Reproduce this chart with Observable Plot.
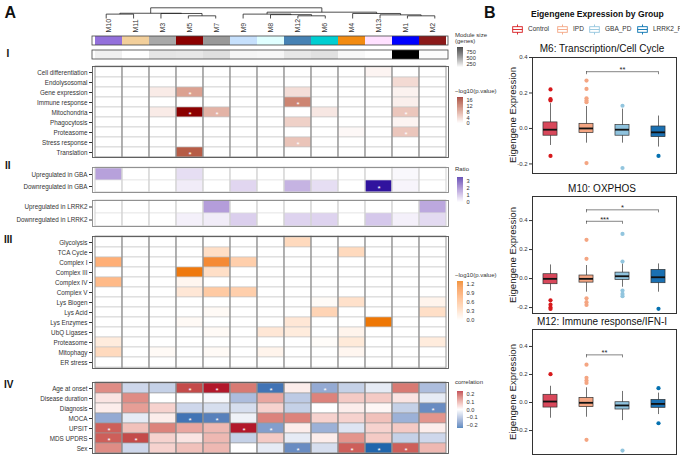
<!DOCTYPE html>
<html>
<head>
<meta charset="utf-8">
<script src="https://cdn.jsdelivr.net/npm/d3@7"></script>
<script src="https://cdn.jsdelivr.net/npm/@observablehq/plot@0.6"></script>
<style>
  body { margin: 0; background: #fff; }
  #fig { position: relative; width: 680px; height: 458px; overflow: hidden; background: #fff;
         font-family: "Liberation Sans", Arial, sans-serif; color: #222; }
  #fig svg { position: absolute; overflow: visible; }
  .t { position: absolute; white-space: nowrap; line-height: 1; }
</style>
</head>
<body>
<div id="fig"></div>
<script>
// ---------- Panel A: module annotations ----------
const modules = ["M10","M11","M3","M5","M7","M9","M8","M12","M6","M4","M13","M1","M2"];
const moduleColors = ["#9370db","#f2cf9b","#a9a9a9","#8b0000","#999999","#c6e0fc","#e0ffff","#4682b4","#00ced1","#f28a10","#ffe1ff","#0000ff","#8b1a1a"];
const moduleSizes = [140, 96, 172, 165, 190, 125, 118, 165, 182, 115, 100, 930, 106];

// hierarchical clustering of module eigengenes: [left, right, merge height]; nK = K-th merge
const merges = [
  ["M10","M11",0.41],
  ["M5","M7",0.25],
  ["M3","n2",0.47],
  ["n1","n3",0.49],
  ["M12","M6",0.25],
  ["M8","n5",0.36],
  ["M9","n6",0.41],
  ["M1","M2",0.25],
  ["M13","n8",0.34],
  ["M4","n9",0.47],
  ["n7","n10",0.59],
  ["n4","n11",1.0]
];

// ---------- Section I: pathway enrichment, -log10(p) ----------
const rowsI = ["Cell differentiation","Endolysosomal","Gene expression","Immune response","Mitochondria","Phagocytosis","Proteasome","Stress response","Translation"];
const valuesI = [
  [0,0,0,0,0,0,0,0,0,0,0.8,0,0],
  [0,0,0,0,0,0,0,0,0,0,0,2.8,0],
  [0,0,1.5,7.2,0,0,0,2.5,0,0,0,1.0,0],
  [0,0,0,0,0,0,0,9.4,0,0,0,1.2,0],
  [0,0,1.5,18,5.8,0,0,0,1.8,0,0,4.3,0],
  [0,0,0,0,0,0,0,3.5,0,0,0,0.8,0],
  [0,0,0,0,0,0,0,0,0,0.5,0,4.3,0],
  [0,0,0,0,0,0,0,4.5,0,0,0,0,0],
  [0,0,0,12.6,0,0,0,0,0,0,0,0,0]
];
const starsI = [[],[],["M5"],["M12"],["M5","M7","M1"],[],["M1"],["M12"],["M5"]];

// ---------- Section II: overlap with mutation-carrier DEGs, ratio ----------
const rowsGBA = ["Upregulated in GBA","Downregulated in GBA"];
const valuesGBA = [
  [1.3,0,0,0.45,0,0,0,0,0,0,0,0.1,0],
  [0,0,0,0.25,0,0.55,0,1.05,0.45,0,3.4,0.15,0]
];
const starsGBA = [[],["M13"]];
const rowsLRRK2 = ["Upregulated in LRRK2","Downregulated in LRRK2"];
const valuesLRRK2 = [
  [0,0,0,0,1.35,0,0,0,0,0,0,0,1.2],
  [0,0,0,0.2,0.25,0.65,0,0.6,0.6,0,0.75,0.2,0.5]
];

// ---------- Section III: PD-relevant gene sets, -log10(p) ----------
const rowsIII = ["Glycolysis","TCA Cycle","Complex I","Complex III","Complex IV","Complex V","Lys Biogen","Lys Acid","Lys Enzymes","UbQ Ligases","Proteasome","Mitophagy","ER stress"];
const valuesIII = [
  [0,0,0,0,0,0,0,0.35,0,0,0,0,0],
  [0,0,0,0,0.3,0,0,0,0,0.35,0,0,0],
  [0.75,0,0,0,1.1,0.45,0,0,0,0,0,0,0],
  [0,0,0,1.25,0.3,0,0,0,0,0,0,0,0],
  [0.65,0,0,0.08,0,0,0,0,0,0,0,0,0],
  [0,0,0,0.22,0.5,0.45,0,0,0,0,0,0,0],
  [0,0,0,0,0,0,0,0,0.04,0.28,0,0,0.1],
  [0,0,0,0,0.05,0,0,0,0.4,0,0,0,0.3],
  [0,0,0,0.05,0,0,0,0.22,0,0,1.27,0,0],
  [0,0,0,0,0.05,0,0.22,0.18,0,0.1,0,0,0],
  [0.18,0,0,0,0,0,0,0,0.03,0.2,0,0,0.18],
  [0.35,0,0.05,0,0.05,0,0.1,0,0,0.08,0,0,0],
  [0,0,0,0,0,0,0,0,0,0,0,0,0]
];

// ---------- Section IV: clinical correlations ----------
const rowsIV = ["Age at onset","Disease duration","Diagnosis","MOCA","UPSIT","MDS UPDRS","Sex"];
const valuesIV = [
  [0.13,-0.06,-0.07,0.2,0.24,0.15,-0.22,0.02,-0.13,-0.07,-0.03,0.15,-0.1],
  [0.03,0.13,0,0,-0.01,-0.1,0.1,-0.08,0.14,0.06,0.06,0.03,-0.03],
  [0.02,0.11,0.05,-0.06,-0.05,-0.05,0.05,-0.07,0,0.02,0.01,-0.07,-0.18],
  [-0.13,-0.03,0.02,-0.22,-0.2,-0.02,0.14,0.14,0.05,0.05,0.07,-0.12,0.12],
  [0.18,0.07,0.14,0.1,0.08,0.24,-0.15,0.02,-0.12,-0.04,0.05,0.06,0.02],
  [0.18,0.2,0.05,0.03,0.08,-0.07,0.06,-0.03,0.02,0.12,0.06,-0.07,-0.06],
  [0.13,-0.06,0.05,0.07,0.08,0,-0.03,-0.18,-0.05,0.18,-0.245,0.18,0.08]
];
const starsIV = [["M5","M7","M8","M6"],[],["M2"],["M5","M7"],["M10","M9","M8"],["M10","M11"],["M12","M4","M13","M1"]];

// ---------- Panel B: eigengene expression by group ----------
const groups = ["Control","IPD","GBA_PD","LRRK2_PD"];
// per group: [lower whisker, Q1, median, Q3, upper whisker]
const m6Box = [[-0.096,-0.041,-0.007,0.034,0.14],[-0.083,-0.026,0.0,0.026,0.124],[-0.083,-0.041,-0.007,0.019,0.109],[-0.105,-0.049,-0.022,0.011,0.07]];
const m6Outliers = [[0.22,0.165,0.158,-0.155],[0.27,0.223,0.17,0.158,0.148,-0.195],[0.128,-0.223],[-0.155]];
const m6Signif = [["IPD","LRRK2_PD",0.32,"**"]];
const m10Box = [[-0.085,-0.039,-0.002,0.03,0.094],[-0.094,-0.028,-0.002,0.021,0.09],[-0.06,-0.009,0.016,0.041,0.101],[-0.094,-0.032,0.009,0.06,0.101]];
const m10Outliers = [[-0.15,-0.18,-0.2,-0.21],[0.267,0.136,-0.136,-0.163,-0.182],[0.308,0.117,-0.083,-0.106,-0.122],[-0.209]];
const m10Signif = [["IPD","GBA_PD",0.395,"***"],["IPD","LRRK2_PD",0.474,"*"]];
const m12Box = [[-0.112,-0.036,0.007,0.055,0.116],[-0.105,-0.033,-0.002,0.033,0.105],[-0.129,-0.05,-0.021,0.002,0.079],[-0.086,-0.038,-0.01,0.019,0.067]];
const m12Outliers = [[0.202],[0.27,0.176,0.157,0.14,-0.266],[-0.343],[0.102,-0.148]];
const m12Signif = [["IPD","GBA_PD",0.34,"**"]];

// ---------- styling ----------
const FONT = "'Liberation Sans', Arial, sans-serif";
const baseStyle = {fontFamily: FONT, fontSize: "6.3px", color: "#333", background: "transparent", overflow: "visible"};
const W = 460, ML = 92, MR = 12;
const groupStroke = ["#d7191c","#f4a582","#92c5de","#0571b0"];
const groupFill = ["#d9485b","#f4a582","#8fc3de","#1a70b2"];

const sizeColor = {type: "linear", domain: [96, 930], range: ["#ffffff", "#000000"], interpolate: "lab"};
const enrichColor = {type: "linear", domain: [0, 18], range: ["#ffffff", "#8b0000"], interpolate: "lab"};
const ratioColor = {type: "linear", domain: [0, 3.45], range: ["#ffffff", "#2b0f9c"], interpolate: "lab"};
const pdColor = {type: "linear", domain: [0, 1.28], range: ["#ffffff", "#ee7600"], interpolate: "lab"};
const corrColor = {type: "linear", domain: [-0.245, 0, 0.24], range: ["#2166ac", "#ffffff", "#b2182b"], interpolate: "lab"};

const fig = document.getElementById("fig");
function place(node, left, top) {
  node.style.left = left + "px";
  node.style.top = top + "px";
  fig.appendChild(node);
  return node;
}
function text(str, left, top, css = "") {
  const d = document.createElement("div");
  d.className = "t";
  d.textContent = str;
  d.style.cssText += `left:${left}px;top:${top}px;${css}`;
  fig.appendChild(d);
  return d;
}

// ---------- dendrogram ----------
const nodes = new Map(modules.map((m, i) => [m, {x: i + 0.5, h: 0}]));
const segments = [];
merges.forEach(([a, b, h], k) => {
  const A = nodes.get(a), B = nodes.get(b);
  segments.push({x1: A.x, y1: A.h, x2: A.x, y2: h});
  segments.push({x1: B.x, y1: B.h, x2: B.x, y2: h});
  segments.push({x1: A.x, y1: h, x2: B.x, y2: h});
  nodes.set("n" + (k + 1), {x: (A.x + B.x) / 2, h});
});
place(Plot.plot({
  width: W, height: 19, marginLeft: ML, marginRight: MR, marginTop: 7.3, marginBottom: 1,
  style: baseStyle,
  x: {domain: [0, modules.length], axis: null},
  y: {domain: [0, 1], axis: null},
  marks: [Plot.link(segments, {x1: "x1", y1: "y1", x2: "x2", y2: "y2", stroke: "#222", strokeWidth: 0.8})]
}), 0, 0);

// ---------- module colour and size bars, with module names ----------
place(Plot.plot({
  width: W, height: 43, marginLeft: ML, marginRight: MR, marginTop: 18, marginBottom: 0,
  style: baseStyle,
  x: {domain: modules, padding: 0},
  y: {domain: ["color", "size"], paddingInner: 0.333, paddingOuter: 0, axis: null},
  color: sizeColor,
  marks: [
    Plot.cell(modules, {x: d => d, y: () => "color", fill: (d, i) => moduleColors[i]}),
    Plot.cell(modules, {x: d => d, y: () => "size", fill: (d, i) => moduleSizes[i]}),
    Plot.cell(["color", "size"], {y: d => d, fill: "none", stroke: "#444", strokeWidth: 0.8}),
    Plot.axisX({anchor: "top", tickRotate: -90, tickSize: 0, tickPadding: 3, label: null, fontSize: 7})
  ]
}), 0, 17);

// ---------- heatmap sections ----------
function heatmap({rows, values, stars = [], top, height, color, cellStroke, columnStroke, frameStroke}) {
  const cells = rows.flatMap((r, i) => modules.map((m, j) => ({row: r, module: m, value: values[i][j]})));
  const starred = rows.flatMap((r, i) => (stars[i] || []).map(m => ({row: r, module: m})));
  place(Plot.plot({
    width: W, height, marginLeft: ML, marginRight: MR, marginTop: 0, marginBottom: 0,
    style: baseStyle,
    x: {domain: modules, padding: 0, axis: null},
    y: {domain: rows, padding: 0},
    color,
    marks: [
      Plot.cell(cells, {x: "module", y: "row", fill: "value", stroke: cellStroke, strokeWidth: 0.6}),
      Plot.cell(modules, {x: d => d, fill: "none", stroke: columnStroke, strokeWidth: 0.7}),
      Plot.text(starred, {x: "module", y: "row", text: () => "*", fill: "white", fontSize: 8, dy: 2}),
      Plot.frame({stroke: frameStroke, strokeWidth: 0.9}),
      Plot.axisY({tickSize: 3, tickPadding: 2, label: null, fontSize: 6.3, stroke: "#333"})
    ]
  }), 0, top);
}
heatmap({rows: rowsI, values: valuesI, stars: starsI, top: 66, height: 91, color: enrichColor,
         cellStroke: "#c4c4c4", columnStroke: "#8a8a8a", frameStroke: "#555"});
heatmap({rows: rowsGBA, values: valuesGBA, stars: starsGBA, top: 167, height: 25, color: ratioColor,
         cellStroke: "#dedede", columnStroke: "#d2d2d2", frameStroke: "#888"});
heatmap({rows: rowsLRRK2, values: valuesLRRK2, top: 200, height: 26, color: ratioColor,
         cellStroke: "#dedede", columnStroke: "#d2d2d2", frameStroke: "#888"});
heatmap({rows: rowsIII, values: valuesIII, top: 236, height: 132, color: pdColor,
         cellStroke: "#c4c4c4", columnStroke: "#8a8a8a", frameStroke: "#555"});
heatmap({rows: rowsIV, values: valuesIV, stars: starsIV, top: 381.5, height: 71, color: corrColor,
         cellStroke: "#9a9a9a", columnStroke: "#8c8c8c", frameStroke: "#555"});

// ---------- colour-bar legends ----------
function ramp({title, titleTop, top, height, color, ticks, format}) {
  const [lo, hi] = [color.domain[0], color.domain[color.domain.length - 1]];
  const n = 60;
  const steps = d3.range(n).map(i => ({a: lo + (hi - lo) * i / n, b: lo + (hi - lo) * (i + 1) / n}));
  place(Plot.plot({
    width: 28, height, marginLeft: 0, marginRight: 22, marginTop: 0, marginBottom: 0,
    style: {...baseStyle, fontSize: "5.6px"},
    x: {domain: [0, 1], axis: null},
    y: {domain: [lo, hi], axis: null},
    color,
    marks: [
      Plot.rect(steps, {x1: 0, x2: 1, y1: "a", y2: "b", fill: d => (d.a + d.b) / 2}),
      Plot.axisY({anchor: "right", ticks, tickFormat: format, tickSize: 0, tickPadding: 3, label: null, fontSize: 5.6})
    ]
  }), 457, top);
  title.forEach((line, i) => text(line, 455, titleTop + i * 5.6, "font-size:6px;color:#333;"));
}
ramp({title: ["Module size", "(genes)"], titleTop: 32, top: 47, height: 20, color: sizeColor,
      ticks: [250, 500, 750], format: d3.format("d")});
ramp({title: ["−log10(p.value)"], titleTop: 87.5, top: 97, height: 26, color: enrichColor,
      ticks: [0, 4, 8, 12, 16], format: d3.format("d")});
ramp({title: ["Ratio"], titleTop: 166, top: 177, height: 25, color: ratioColor,
      ticks: [0, 1, 2, 3], format: d3.format("d")});
ramp({title: ["−log10(p.value)"], titleTop: 271.5, top: 281, height: 39, color: pdColor,
      ticks: [0, 0.3, 0.6, 0.9, 1.2], format: d3.format(".1f")});
ramp({title: ["correlation"], titleTop: 379, top: 391, height: 37, color: corrColor,
      ticks: [-0.2, -0.1, 0, 0.1, 0.2], format: d3.format(".1f")});

// ---------- panel and section labels ----------
text("A", 4.5, 4.6, "font-size:16px;font-weight:bold;color:#111;");
text("B", 484, 4.6, "font-size:16px;font-weight:bold;color:#111;");
text("I", 6.5, 48.7, "font-size:10px;font-weight:bold;color:#111;");
text("II", 5, 160.5, "font-size:10px;font-weight:bold;color:#111;");
text("III", 4, 234.5, "font-size:10px;font-weight:bold;color:#111;");
text("IV", 4, 380.4, "font-size:10px;font-weight:bold;color:#111;");

// ---------- Panel B ----------
text("Eigengene Expression by Group", 531, 10.2, "font-size:8.6px;font-weight:bold;color:#111;");
const legendX = [512, 557, 589, 637];
groups.forEach((g, i) => {
  const ns = "http://www.w3.org/2000/svg";
  const s = document.createElementNS(ns, "svg");
  s.setAttribute("width", 11); s.setAttribute("height", 11);
  s.innerHTML = `<line x1="5.5" y1="0.5" x2="5.5" y2="10.5" stroke="${groupStroke[i]}" stroke-width="0.9"/>
    <rect x="0.7" y="2.7" width="9.6" height="5.6" fill="white" stroke="${groupStroke[i]}" stroke-width="0.9"/>
    <line x1="0.7" y1="5.5" x2="10.3" y2="5.5" stroke="${groupStroke[i]}" stroke-width="0.9"/>`;
  place(s, legendX[i], 24);
  text(g, legendX[i] + 16, 25.5, "font-size:6.5px;color:#333;");
});

function boxPanel({title, titleTop, top, height, domain, box, outliers, signif}) {
  const rows = groups.map((g, i) => ({i, lo: box[i][0], q1: box[i][1], med: box[i][2], q3: box[i][3], hi: box[i][4]}));
  const pts = groups.flatMap((g, i) => outliers[i].map(v => ({i, v})));
  const brk = signif.map(([a, b, y, label]) => ({a: groups.indexOf(a) + 0.5, b: groups.indexOf(b) + 0.5, y, label}));
  const drop = 3 * (domain[1] - domain[0]) / height;
  const half = 0.195;
  place(Plot.plot({
    width: 180, height, marginLeft: 32, marginRight: 4, marginTop: 0, marginBottom: 0,
    style: {...baseStyle, fontSize: "6px"},
    x: {domain: [0, groups.length], axis: null},
    y: {domain},
    marks: [
      Plot.ruleX(rows, {x: d => d.i + 0.5, y1: "lo", y2: "hi", stroke: "#333", strokeWidth: 0.7}),
      Plot.rect(rows, {x1: d => d.i + 0.5 - half, x2: d => d.i + 0.5 + half, y1: "q1", y2: "q3",
                       fill: d => groupFill[d.i], stroke: "#333", strokeWidth: 0.7}),
      Plot.ruleY(rows, {x1: d => d.i + 0.5 - half, x2: d => d.i + 0.5 + half, y: "med", stroke: "#111", strokeWidth: 1.8}),
      Plot.dot(pts, {x: d => d.i + 0.5, y: "v", r: 2.1, fill: d => groupStroke[d.i], stroke: "none"}),
      Plot.ruleY(brk, {x1: "a", x2: "b", y: "y", stroke: "#333", strokeWidth: 0.6}),
      Plot.ruleX(brk, {x: "a", y1: "y", y2: d => d.y - drop, stroke: "#333", strokeWidth: 0.6}),
      Plot.ruleX(brk, {x: "b", y1: "y", y2: d => d.y - drop, stroke: "#333", strokeWidth: 0.6}),
      Plot.text(brk, {x: d => (d.a + d.b) / 2, y: "y", text: "label", fontSize: 7.5, dy: -2, fill: "#222"}),
      Plot.axisY({ticks: [-0.2, 0, 0.2, 0.4], tickFormat: d => d.toFixed(1), tickSize: 3, tickPadding: 2,
                  label: null, fontSize: 6, stroke: "#333"}),
      Plot.frame({stroke: "#333", strokeWidth: 1})
    ]
  }), 500, top);
  text(title, 602, titleTop, "font-size:10px;color:#111;transform:translateX(-50%);");
  text("Eigengene Expression", 513, top + height / 2, "font-size:9.6px;color:#222;transform:translate(-50%,-50%) rotate(-90deg);");
}
boxPanel({title: "M6: Transcription/Cell Cycle", titleTop: 44, top: 57, height: 116,
          domain: [-0.254, 0.4], box: m6Box, outliers: m6Outliers, signif: m6Signif});
boxPanel({title: "M10: OXPHOS", titleTop: 183.5, top: 196, height: 117,
          domain: [-0.241, 0.566], box: m10Box, outliers: m10Outliers, signif: m10Signif});
boxPanel({title: "M12: Immune response/IFN-I", titleTop: 316.5, top: 329, height: 125,
          domain: [-0.371, 0.521], box: m12Box, outliers: m12Outliers, signif: m12Signif});
</script>
</body>
</html>
